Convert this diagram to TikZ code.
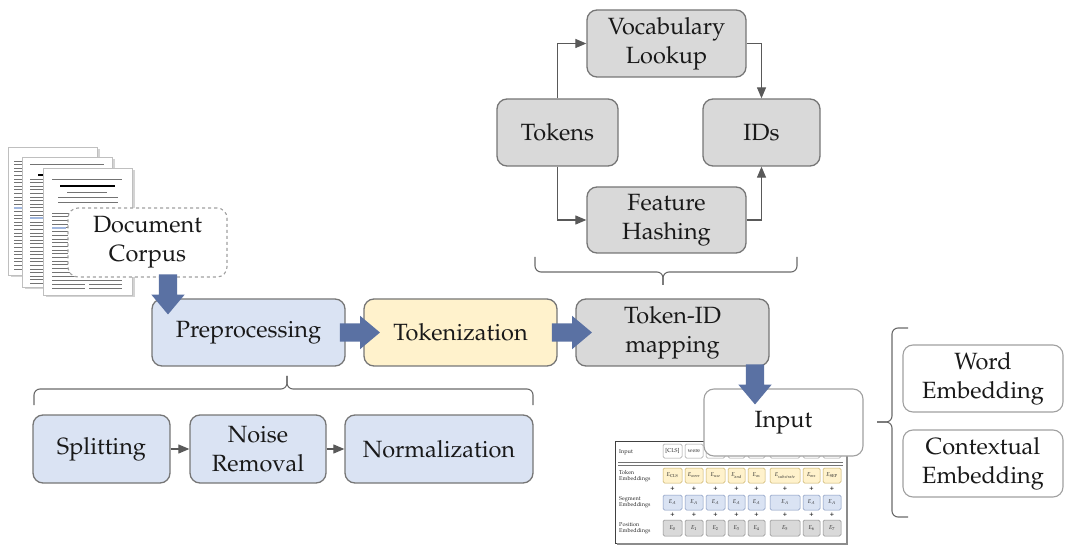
\documentclass[tikz,border=0pt]{standalone}
\usepackage[T1]{fontenc}
\usepackage{mathpazo}
\usetikzlibrary{shapes.arrows,shadows,arrows.meta,calc}

\definecolor{bluefill}{RGB}{218,227,243}
\definecolor{yellowfill}{RGB}{255,242,204}
\definecolor{grayfill}{RGB}{217,217,217}
\definecolor{boxline}{RGB}{118,118,118}
\definecolor{lightline}{RGB}{160,160,160}
\definecolor{conncol}{RGB}{89,89,89}
\definecolor{arrowblue}{RGB}{90,113,163}
\definecolor{textcol}{RGB}{25,25,25}
\definecolor{hilite}{RGB}{160,182,222}
\definecolor{celly}{RGB}{200,175,100}
\definecolor{cellb}{RGB}{130,150,190}
\definecolor{cellg}{RGB}{140,140,140}

\tikzset{
  box/.style={draw=boxline, line width=1.3pt, rounded corners=10pt, align=center,
    inner sep=0pt, text=textcol, font=\fontsize{23.5}{29}\selectfont},
  bluebox/.style={box, fill=bluefill},
  yellowbox/.style={box, fill=yellowfill},
  graybox/.style={box, fill=grayfill},
  whitebox/.style={box, fill=white, draw=lightline, line width=1.1pt},
  dashbox/.style={box, fill=white, draw=lightline, line width=1.1pt, dashed},
  conn/.style={draw=conncol, line width=1.2pt, -{Triangle[length=11pt,width=9pt]}},
  bracket/.style={draw=conncol!90, line width=1.1pt, rounded corners=6pt},
  bigarrow/.style={single arrow, fill=arrowblue, draw=none, minimum height=40pt,
    minimum width=33pt, single arrow head extend=7.5pt, single arrow tip angle=80,
    inner xsep=2pt, inner ysep=9pt},
  page/.style={fill=white, draw=black!25, line width=0.5pt,
    drop shadow={shadow xshift=2.5pt, shadow yshift=-2.5pt, opacity=0.35}},
  pline/.style={draw=black!55, line width=0.7pt},
  cell/.style={rounded corners=1.5pt, line width=0.5pt},
  tiny/.style={font=\fontsize{5.6}{6}\selectfont, text=black!85, inner sep=0pt},
}

\begin{document}
\begin{tikzpicture}[x=1pt,y=-1pt]
\useasboundingbox (0,0) rectangle (1066,545);

% ---------- stack of documents ----------
\filldraw[page] (8,147) rectangle (97,275);
\foreach \i in {0,...,30} \draw[pline] (14,161+3.6*\i) -- (90,161+3.6*\i);
\draw[hilite, line width=2.6pt] (14,208) -- (30,208);

\filldraw[page] (22,157) rectangle (112,287);
\draw[pline] (30,164) -- (104,164);
\draw[black, line width=1.6pt] (38,175) -- (98,175);
\foreach \i in {0,...,29} \draw[pline] (30,179+3.6*\i) -- (104,179+3.6*\i);
\draw[hilite, line width=2.6pt] (30,218) -- (44,218);

\filldraw[page] (43,168) rectangle (132,295);
\draw[pline] (52,179) -- (122,179);
\draw[black, line width=2pt] (60,186) -- (115,186);
\draw[pline] (67,192) -- (107,192);
\draw[pline] (58,197) -- (118,197);
\draw[pline] (58,202) -- (118,202);
\foreach \i in {0,...,17} \draw[pline] (52,213+3.7*\i) -- (122,213+3.7*\i);
\draw[hilite, line width=2.6pt] (52,228) -- (66,228);
\draw[pline] (52,280) -- (122,280);
\foreach \y in {284,288} {
  \draw[pline] (52,\y) -- (85,\y);
  \draw[pline] (89,\y) -- (122,\y);
}

% ---------- main boxes ----------
\node[dashbox, minimum width=159pt, minimum height=69pt] (corpus) at (147.5,242.5) {Document\\Corpus};

\node[bluebox, minimum width=193pt, minimum height=67pt] (prep) at (248.5,332.5) {Preprocessing};
\node[yellowbox, minimum width=193pt, minimum height=67pt] (tokz) at (460.5,332.5) {Tokenization};
\node[graybox, minimum width=193pt, minimum height=67pt] (tidm) at (672.5,332.5) {Token-ID\\mapping};

\node[graybox, minimum width=159pt, minimum height=67pt] (vocab) at (666.5,43.5) {Vocabulary\\Lookup};
\node[graybox, minimum width=121pt, minimum height=67pt] (tokens) at (557.5,132.5) {Tokens};
\node[graybox, minimum width=117pt, minimum height=67pt] (ids) at (761.5,132.5) {IDs};
\node[graybox, minimum width=159pt, minimum height=66pt] (hash) at (666.5,220) {Feature\\Hashing};

\node[bluebox, minimum width=137pt, minimum height=68pt] (split) at (101.5,449) {Splitting};
\node[bluebox, minimum width=136pt, minimum height=68pt] (noise) at (258,449) {Noise\\Removal};
\node[bluebox, minimum width=188pt, minimum height=68pt] (norm) at (439,449) {Normalization};

\node[whitebox, minimum width=160pt, minimum height=67pt] (word) at (983,378.5) {Word\\Embedding};
\node[whitebox, minimum width=160pt, minimum height=67pt] (ctx) at (983,463.5) {Contextual\\Embedding};

% ---------- embedding table ----------
\draw[black!75, line width=0.7pt, fill=white] (615,441) rectangle (846,543);
\draw[black!45, line width=1.6pt] (847,443) -- (847,544) -- (617,544);
\draw[black!55, line width=0.5pt] (618,462) -- (843,462);
\draw[black!55, line width=0.5pt] (618,465) -- (843,465);
\node[tiny, anchor=west] (lin) at (619,452) {Input};
\node[tiny, anchor=west, align=left] (ltok) at (619,476) {Token\\Embeddings};
\node[tiny, anchor=west, align=left] (lseg) at (619,502.5) {Segment\\Embeddings};
\node[tiny, anchor=west, align=left] (lpos) at (619,528) {Position\\Embeddings};
\foreach \a/\b/\w/\t [count=\i from 0] in {663/682/{[CLS]}/{\mathrm{CLS}}, 685/703/were/{were}, 706/725/{}/{use},
  728/745/{}/{and}, 748/765/{}/{as}, 770/800/{}/{substrate}, 803/820/{}/{ms}, 823/841/{}/{\mathrm{SEP}}} {
  \draw[cell, draw=black!40, fill=white] (\a,444) rectangle (\b,458);
  \node[tiny] (win\i) at ({(\a+\b)/2},451) {\w};
  \draw[cell, draw=celly, fill=yellowfill] (\a,468) rectangle (\b,483);
  \node[tiny] (etok\i) at ({(\a+\b)/2},475.5) {$E_{\t}$};
  \node[tiny, font=\fontsize{7}{7}\bfseries] (pa\i) at ({(\a+\b)/2},489) {+};
  \draw[cell, draw=cellb, fill=bluefill] (\a,495) rectangle (\b,510);
  \node[tiny] (eseg\i) at ({(\a+\b)/2},502.5) {$E_{A}$};
  \node[tiny, font=\fontsize{7}{7}\bfseries] (pb\i) at ({(\a+\b)/2},515) {+};
  \draw[cell, draw=cellg, fill=grayfill] (\a,520) rectangle (\b,536);
  \node[tiny] (epos\i) at ({(\a+\b)/2},528) {$E_{\i}$};
}

\node[whitebox, minimum width=159pt, minimum height=67pt] (input) at (783.5,422.5) {Input};

% ---------- connectors ----------
\draw[conn] (tokens.north) |- (vocab.west);
\draw[conn] (vocab.east) -| (ids.north);
\draw[conn] (tokens.south) |- (hash.west);
\draw[conn] (hash.east) -| (ids.south);
\draw[conn] (split) -- (noise);
\draw[conn] (noise) -- (norm);

% ---------- brackets ----------
\draw[bracket] (535,257) -- (535,272) -- (663,272) -- (663,285);
\draw[bracket] (797,257) -- (797,272) -- (663,272) -- (663,285);
\draw[bracket] (34,405) -- (34,389) -- (287,389) -- (287,376);
\draw[bracket] (533,405) -- (533,389) -- (287,389) -- (287,376);
\draw[bracket] (908,328) -- (892,328) -- (892,422) -- (877,422);
\draw[bracket] (908,517) -- (892,517) -- (892,422) -- (877,422);

% ---------- block arrows ----------
\node[bigarrow, rotate=-90] (a0) at (168,289) {};
\node[bigarrow] (a1) at ($(prep.east)!0.5!(tokz.west)$) {};
\node[bigarrow] (a2) at ($(tokz.east)!0.5!(tidm.west)$) {};
\node[bigarrow, rotate=-90] (a3) at (755,379) {};

\end{tikzpicture}
\end{document}
